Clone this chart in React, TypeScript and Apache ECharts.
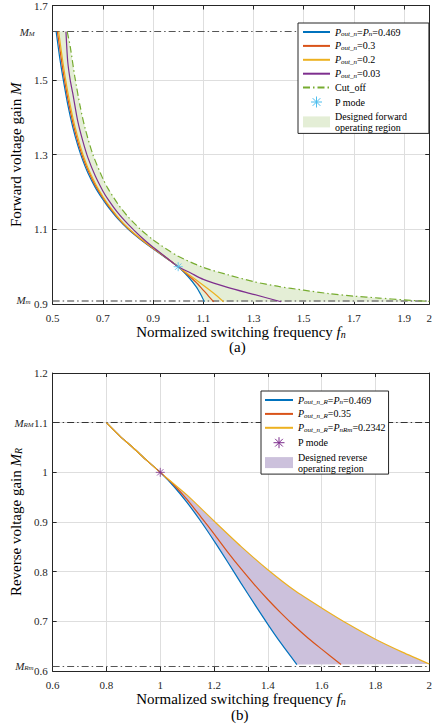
import React, { useEffect, useRef } from 'react';
import * as echarts from 'echarts';

const FONT = 'Liberation Serif';
const BLUE = '#0072BD';
const ORANGE = '#D95319';
const YELLOW = '#EDB120';
const PURPLE = '#7E2F8E';
const GREEN = '#77AC30';
const CYAN = '#4DBEEE';
const FILL_A = '#E4EED6';
const FILL_B = '#CCC1DC';
const AXIS = '#262626';
const GRIDC = '#DEDEDE';

// ---------- (a) forward ----------
const topXTicks = [0.5, 0.7, 0.9, 1.1, 1.3, 1.5, 1.7, 1.9, 2];
const topYTicks = [0.9, 1.1, 1.3, 1.5, 1.7];
const M_M = 1.63;
const M_m = 0.906;

const fwdP469 = [[0.514,1.630],[0.527,1.565],[0.540,1.510],[0.560,1.435],[0.580,1.374],[0.600,1.325],[0.620,1.285],[0.640,1.252],[0.670,1.212],[0.700,1.180],[0.720,1.161],[0.760,1.128],[0.800,1.101],[0.850,1.073],[0.900,1.048],[0.950,1.024],[1.000,1.000],[1.040,0.973],[1.072,0.946],[1.091,0.924],[1.104,0.906]];
const fwdP3 = [[0.519,1.630],[0.540,1.531],[0.560,1.452],[0.580,1.388],[0.600,1.336],[0.620,1.294],[0.640,1.260],[0.670,1.218],[0.700,1.185],[0.720,1.165],[0.760,1.131],[0.800,1.103],[0.850,1.074],[0.900,1.049],[0.950,1.025],[1.000,1.000],[1.040,0.977],[1.070,0.959],[1.091,0.944],[1.120,0.922],[1.142,0.906]];
const fwdP2 = [[0.524,1.630],[0.540,1.552],[0.560,1.469],[0.580,1.401],[0.600,1.347],[0.620,1.302],[0.640,1.266],[0.670,1.223],[0.700,1.188],[0.720,1.168],[0.760,1.133],[0.800,1.104],[0.850,1.075],[0.900,1.050],[0.950,1.025],[1.000,1.000],[1.040,0.980],[1.104,0.948],[1.150,0.924],[1.181,0.906]];
const fwdP03 = [[0.553,1.630],[0.560,1.550],[0.570,1.500],[0.580,1.465],[0.600,1.390],[0.620,1.337],[0.640,1.293],[0.670,1.243],[0.700,1.203],[0.720,1.181],[0.760,1.144],[0.800,1.114],[0.850,1.081],[0.900,1.052],[0.950,1.026],[1.000,1.000],[1.050,0.983],[1.100,0.966],[1.200,0.944],[1.300,0.926],[1.410,0.906]];
const cutOff = [[0.558,1.630],[0.570,1.590],[0.588,1.510],[0.610,1.428],[0.630,1.369],[0.660,1.301],[0.700,1.236],[0.720,1.210],[0.760,1.168],[0.800,1.134],[0.850,1.100],[0.900,1.072],[0.950,1.049],[1.000,1.028],[1.100,0.998],[1.200,0.978],[1.300,0.960],[1.400,0.947],[1.500,0.937],[1.600,0.928],[1.700,0.921],[1.800,0.916],[1.900,0.911],[2.000,0.907]];
const pModeA = [[1, 1]];

// ---------- (b) reverse ----------
const M_RM = 1.1;
const M_Rm = 0.613;
const revP469 = [[0.800,1.100],[0.850,1.073],[0.900,1.049],[0.950,1.024],[1.000,1.000],[1.050,0.972],[1.100,0.939],[1.150,0.902],[1.200,0.862],[1.250,0.820],[1.300,0.777],[1.350,0.735],[1.400,0.694],[1.450,0.655],[1.508,0.613]];
const revP35 = [[0.800,1.100],[0.850,1.073],[0.900,1.049],[0.950,1.024],[1.000,1.000],[1.050,0.975],[1.100,0.945],[1.150,0.911],[1.200,0.876],[1.250,0.840],[1.300,0.806],[1.350,0.774],[1.400,0.744],[1.450,0.716],[1.500,0.690],[1.550,0.666],[1.600,0.644],[1.672,0.613]];
const revP2342 = [[0.800,1.100],[0.850,1.073],[0.900,1.049],[0.950,1.024],[1.000,1.000],[1.050,0.977],[1.100,0.954],[1.200,0.902],[1.300,0.851],[1.400,0.804],[1.500,0.762],[1.600,0.727],[1.700,0.694],[1.800,0.664],[1.900,0.638],[2.000,0.614]];
const pModeB = [[1, 1]];

const N_A1 = 'P_out_n=P_n=0.469';
const N_A2 = 'P_out_n=0.3';
const N_A3 = 'P_out_n=0.2';
const N_A4 = 'P_out_n=0.03';
const N_A5 = 'Cut_off';
const N_A6 = 'P mode';
const N_A7 = 'Designed forward operating region';
const N_B1 = 'P_out_n_R=P_n=0.469';
const N_B2 = 'P_out_n_R=0.35';
const N_B3 = 'P_out_n_R=P_nRm=0.2342';
const N_B4 = 'P mode (b)';
const N_B5 = 'Designed reverse operating region';

const LEG_TEXT: Record<string, string> = {
  [N_A1]: '{i|P}{s|out_n}{t|=}{i|P}{s|n}{t|=0.469}',
  [N_A2]: '{i|P}{s|out_n}{t|=0.3}',
  [N_A3]: '{i|P}{s|out_n}{t|=0.2}',
  [N_A4]: '{i|P}{s|out_n}{t|=0.03}',
  [N_A5]: '{t|Cut_off}',
  [N_A6]: '{t|P mode}',
  [N_A7]: '{t|Designed forward}\n{t|operating region}',
  [N_B1]: '{i|P}{s|out_n_R}{t|=}{i|P}{s|n}{t|=0.469}',
  [N_B2]: '{i|P}{s|out_n_R}{t|=0.35}',
  [N_B3]: '{i|P}{s|out_n_R}{t|=}{i|P}{s|nRm}{t|=0.2342}',
  [N_B4]: '{t|P mode}',
  [N_B5]: '{t|Designed reverse}\n{t|operating region}',
};

const ASTERISK = 'path://M0,-5L0,5M-5,0L5,0M-3.5,-3.5L3.5,3.5M-3.5,3.5L3.5,-3.5';
const DASHDOT = [7, 3, 1.5, 3];

const legRich = {
  t: { fontFamily: FONT, fontSize: 10, lineHeight: 11, color: '#000' },
  i: { fontFamily: FONT, fontSize: 10, lineHeight: 11, fontStyle: 'italic', color: '#000' },
  s: { fontFamily: FONT, fontSize: 7, lineHeight: 6, fontStyle: 'italic', verticalAlign: 'bottom', color: '#000' },
};

const nameRich = {
  t: { fontFamily: FONT, fontSize: 15, lineHeight: 15, color: '#000' },
  i: { fontFamily: FONT, fontSize: 15, lineHeight: 15, fontStyle: 'italic', color: '#000' },
  s: { fontFamily: FONT, fontSize: 10, lineHeight: 9, fontStyle: 'italic', verticalAlign: 'bottom', color: '#000' },
};

const mRich = {
  i: { fontFamily: FONT, fontSize: 11, fontStyle: 'italic', color: AXIS },
  s: { fontFamily: FONT, fontSize: 7, lineHeight: 7, fontStyle: 'italic', verticalAlign: 'bottom', color: AXIS },
};

const labelStyle = { fontFamily: FONT, fontSize: 11, color: AXIS };
const lineStyleAxis = { color: AXIS, width: 1 };

function xAx(grid: number, min: number, max: number, pos: 'bottom' | 'top', custom: number[] | null, interval: number | null, extra: any = {}) {
  const main = pos === 'bottom';
  const a: any = {
    type: 'value', gridIndex: grid, min, max, position: pos,
    axisLine: { show: true, onZero: false, lineStyle: lineStyleAxis },
    axisTick: { show: true, inside: true, length: 4, lineStyle: lineStyleAxis },
    axisLabel: { show: main, margin: 8, ...labelStyle },
    splitLine: { show: main, lineStyle: { color: GRIDC, width: 1 } },
    ...extra,
  };
  if (interval) a.interval = interval;
  if (custom) { a.axisTick.customValues = custom; a.axisLabel.customValues = custom; }
  return a;
}
function yAx(grid: number, min: number, max: number, pos: 'left' | 'right', custom: number[] | null, interval: number | null, extra: any = {}) {
  const main = pos === 'left';
  const a: any = {
    type: 'value', gridIndex: grid, min, max, position: pos,
    axisLine: { show: true, onZero: false, lineStyle: lineStyleAxis },
    axisTick: { show: true, inside: true, length: 4, lineStyle: lineStyleAxis },
    axisLabel: { show: main, margin: 5, ...labelStyle },
    splitLine: { show: main, lineStyle: { color: GRIDC, width: 1 } },
    ...extra,
  };
  if (interval) a.interval = interval;
  if (custom) { a.axisTick.customValues = custom; a.axisLabel.customValues = custom; }
  return a;
}

function lineSeries(name: string, data: number[][], color: string, xi: number, yi: number, extra: any = {}) {
  return {
    type: 'line', name, data, xAxisIndex: xi, yAxisIndex: yi,
    showSymbol: false, symbol: 'none', smooth: 0.25,
    lineStyle: { color, width: 1.2 }, itemStyle: { color }, z: 3, silent: true,
    ...extra,
  };
}

function regionSeries(name: string, pts: number[][], fill: string, xi: number, yi: number) {
  return {
    type: 'custom', name, xAxisIndex: xi, yAxisIndex: yi, z: 1, silent: true,
    data: [[1, 1]],
    itemStyle: { color: fill },
    renderItem: (_p: any, api: any) => ({
      type: 'polygon',
      shape: { points: pts.map((p) => api.coord(p)) },
      style: { fill },
    }),
  };
}

function hLine(y: number, label: string, distance: number, color: string, width: number) {
  return {
    yAxis: y,
    lineStyle: { color, width, type: DASHDOT },
    label: { show: true, position: 'start', distance, formatter: label, rich: mRich },
  };
}

const regionA = [
  ...fwdP469,
  [cutOff[cutOff.length - 1][0], M_m],
  ...cutOff.slice().reverse(),
];
const revUpper = revP2342.filter((p) => p[0] >= 1);
const revLower = revP469.filter((p) => p[0] >= 1);
const regionB = [
  ...revUpper,
  [revLower[revLower.length - 1][0], M_Rm],
  ...revLower.slice().reverse(),
];

const legendCommon = {
  orient: 'vertical',
  itemHeight: 11, itemGap: 3.4,
  backgroundColor: '#fff', borderColor: AXIS, borderWidth: 1,
  selectedMode: false,
  itemStyle: { opacity: 0 },
  textStyle: { fontFamily: FONT, fontSize: 10, rich: legRich },
  formatter: (n: string) => LEG_TEXT[n] || n,
};

const titleText = { fontFamily: FONT, fontSize: 15, fontWeight: 'normal', color: '#000', lineHeight: 15 };

const option: any = {
  animation: false,
  backgroundColor: '#fff',
  title: [
    { text: '(a)', left: 229, top: 339, padding: 0, textStyle: titleText },
    { text: '(b)', left: 231, top: 707, padding: 0, textStyle: titleText },
  ],
  grid: [
    { left: 43, top: 4, width: 390, height: 300 },
    { left: 45, top: 373, width: 388, height: 298 },
  ],
  xAxis: [
    xAx(0, 0.5, 2, 'bottom', topXTicks, null, {
      name: '{t|Normalized switching frequency }{i|f}{s|n}',
      nameLocation: 'middle', nameGap: 20, nameTextStyle: { rich: nameRich },
    }),
    xAx(0, 0.5, 2, 'top', topXTicks, null),
    xAx(1, 0.6, 2, 'bottom', null, 0.2, {
      name: '{t|Normalized switching frequency }{i|f}{s|n}',
      nameLocation: 'middle', nameGap: 20, nameTextStyle: { rich: nameRich },
    }),
    xAx(1, 0.6, 2, 'top', null, 0.2),
  ],
  yAxis: [
    yAx(0, 0.9, 1.7, 'left', topYTicks, null, {
      name: '{t|Forward voltage gain }{i|M}',
      nameLocation: 'middle', nameGap: 19, nameTextStyle: { rich: nameRich },
    }),
    yAx(0, 0.9, 1.7, 'right', topYTicks, null),
    yAx(1, 0.6, 1.2, 'left', null, 0.1, {
      name: '{t|Reverse voltage gain }{i|M}{s|R}',
      nameLocation: 'middle', nameGap: 19, nameTextStyle: { rich: nameRich },
    }),
    yAx(1, 0.6, 1.2, 'right', null, 0.1),
  ],
  legend: [
    {
      ...legendCommon,
      left: 298, top: 23,
      itemWidth: 27,
      padding: [4, 22, 1, 4],
      data: [
        N_A1, N_A2, N_A3, N_A4, N_A5,
        { name: N_A6, itemStyle: { opacity: 1, color: CYAN, borderColor: CYAN, borderWidth: 1 } },
        { name: N_A7, icon: 'rect', itemStyle: { opacity: 1, color: FILL_A, borderWidth: 0 } },
      ],
    },
    {
      ...legendCommon,
      left: 261, top: 391,
      itemWidth: 28,
      padding: [4, 3, 1, 3],
      data: [
        N_B1, N_B2, N_B3,
        { name: N_B4, itemStyle: { opacity: 1, color: PURPLE, borderColor: PURPLE, borderWidth: 1 } },
        { name: N_B5, icon: 'rect', itemStyle: { opacity: 1, color: FILL_B, borderWidth: 0 } },
      ],
    },
  ],
  series: [
    regionSeries(N_A7, regionA, FILL_A, 0, 0),
    lineSeries(N_A1, fwdP469, BLUE, 0, 0, {
      markLine: {
        silent: true, symbol: 'none', z: 2,
        data: [
          hLine(M_M, '{i|M}{s|M}', 18, '#555', 1),
          hLine(M_m, '{i|M}{s|m}', 22, '#7a7a7a', 1.6),
        ],
      },
    }),
    lineSeries(N_A2, fwdP3, ORANGE, 0, 0),
    lineSeries(N_A3, fwdP2, YELLOW, 0, 0),
    lineSeries(N_A4, fwdP03, PURPLE, 0, 0),
    lineSeries(N_A5, cutOff, GREEN, 0, 0, { lineStyle: { color: GREEN, width: 1.2, type: DASHDOT } }),
    {
      type: 'scatter', name: N_A6, data: pModeA, xAxisIndex: 0, yAxisIndex: 0,
      symbol: ASTERISK, symbolSize: 9, symbolKeepAspect: true, z: 5, silent: true,
      itemStyle: { color: CYAN, borderColor: CYAN, borderWidth: 1 },
    },
    regionSeries(N_B5, regionB, FILL_B, 2, 2),
    lineSeries(N_B1, revP469, BLUE, 2, 2, {
      markLine: {
        silent: true, symbol: 'none', z: 2,
        data: [
          hLine(M_RM, '{i|M}{s|RM}', 19, '#333', 1),
          hLine(M_Rm, '{i|M}{s|Rm}', 19, '#555', 1),
        ],
      },
    }),
    lineSeries(N_B2, revP35, ORANGE, 2, 2),
    lineSeries(N_B3, revP2342, YELLOW, 2, 2),
    {
      type: 'scatter', name: N_B4, data: pModeB, xAxisIndex: 2, yAxisIndex: 2,
      symbol: ASTERISK, symbolSize: 9, symbolKeepAspect: true, z: 5, silent: true,
      itemStyle: { color: PURPLE, borderColor: PURPLE, borderWidth: 1 },
    },
  ],
};

export default function App() {
  const ref = useRef<HTMLDivElement>(null);
  useEffect(() => {
    if (!ref.current) return;
    const chart = echarts.init(ref.current, null, { renderer: 'svg' });
    chart.setOption(option);
    return () => chart.dispose();
  }, []);
  return (
    <div
      ref={ref}
      style={{ position: 'fixed', left: 0, top: 0, width: 435, height: 725, background: '#fff' }}
    />
  );
}
